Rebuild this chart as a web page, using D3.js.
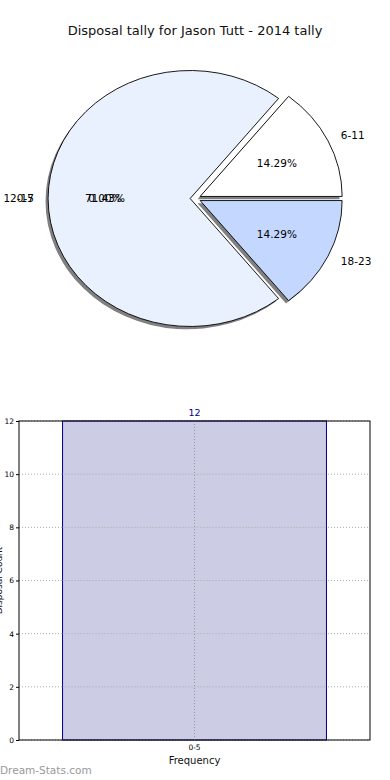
<!DOCTYPE html>
<html>
<head>
<meta charset="utf-8">
<script src="https://cdn.jsdelivr.net/npm/d3@7.9.0/dist/d3.min.js"></script>
<style>
  html, body { margin: 0; padding: 0; background: #fff; }
  svg { display: block; font-family: "DejaVu Sans", sans-serif; }
</style>
</head>
<body>
<svg id="chart" width="390" height="780"></svg>
<script>
const TITLE = "Disposal tally for Jason Tutt - 2014 tally";

// pie data
const pieLabels = ["0-5", "6-11", "12-17", "18-23"];
const pieValues = [0, 1, 5, 1];
const pieColors = ["#d9e6ff", "#ffffff", "#eaf1fe", "#c4d8ff"];

// bar data
const barCats = ["0-5"];
const barValues = [12];
const yTicks = [0, 2, 4, 6, 8, 10, 12];

const svg = d3.select("#chart");

svg.append("text")
  .attr("x", 195).attr("y", 35)
  .attr("text-anchor", "middle")
  .attr("font-size", 13)
  .attr("fill", "#111")
  .text(TITLE);

// ---- pie (matplotlib style: starts east, goes counter-clockwise, non-equal aspect)
const cx = 195.4, cy = 198.5, rx = 142, ry = 128;
const EXPLODE = 0.037;

const slices = d3.pie().sort(null)
  .startAngle(Math.PI / 2)
  .endAngle(Math.PI / 2 - 2 * Math.PI)(pieValues);

const total = d3.sum(pieValues);
const biggest = slices.reduce((a, b) => (b.value > a.value ? b : a));

// empty slices get their labels on the biggest wedge, like the original
const midAngle = d => d.value === 0 ? (biggest.startAngle + biggest.endAngle) / 2 : (d.startAngle + d.endAngle) / 2;
const ux = a => Math.sin(a), uy = a => -Math.cos(a);

const unitArc = d3.arc().innerRadius(0).outerRadius(1);
const pieG = svg.append("g");

function wedgePos(d, dx, dy) {
  const m = midAngle(d);
  const ox = cx + EXPLODE * rx * ux(m) + dx;
  const oy = cy + EXPLODE * ry * uy(m) + dy;
  return `translate(${ox},${oy}) scale(${rx},${ry})`;
}

// shadows
pieG.selectAll("path.shadow")
  .data(slices.filter(d => d.value > 0))
  .join("path")
  .attr("class", "shadow")
  .attr("d", unitArc)
  .attr("fill", "#555")
  .attr("fill-opacity", 0.75)
  .attr("transform", d => wedgePos(d, -2.6, 2.8));

// wedges
pieG.selectAll("path.wedge")
  .data(slices.filter(d => d.value > 0))
  .join("path")
  .attr("class", "wedge")
  .attr("d", unitArc)
  .attr("fill", d => pieColors[d.index])
  .attr("stroke", "#000")
  .attr("stroke-width", 0.9)
  .attr("vector-effect", "non-scaling-stroke")
  .attr("transform", d => wedgePos(d, 0, 0));

// outer labels
pieG.selectAll("text.lab")
  .data(slices)
  .join("text")
  .attr("class", "lab")
  .attr("x", d => cx + (1.1 + EXPLODE) * rx * ux(midAngle(d)))
  .attr("y", d => cy + (1.1 + EXPLODE) * ry * uy(midAngle(d)))
  .attr("dy", "0.35em")
  .attr("text-anchor", d => ux(midAngle(d)) >= 0 ? "start" : "end")
  .attr("font-size", 10.5)
  .attr("fill", "#000")
  .text(d => pieLabels[d.index]);

// percent labels
pieG.selectAll("text.pct")
  .data(slices)
  .join("text")
  .attr("class", "pct")
  .attr("x", d => cx + (0.6 + EXPLODE) * rx * ux(midAngle(d)))
  .attr("y", d => cy + (0.6 + EXPLODE) * ry * uy(midAngle(d)))
  .attr("dy", "0.35em")
  .attr("text-anchor", "middle")
  .attr("font-size", 10.5)
  .attr("fill", "#000")
  .text(d => (d.value / total * 100).toFixed(2) + "%");

// ---- bar chart
const plot = {left: 19, right: 370, top: 421, bottom: 740};

const x = d3.scaleBand()
  .domain(barCats)
  .range([plot.left, plot.right])
  .paddingInner(0)
  .paddingOuter(0.165);

const y = d3.scaleLinear()
  .domain([0, 12])
  .range([plot.bottom, plot.top]);

const barG = svg.append("g");

// grid
barG.selectAll("line.hgrid")
  .data(yTicks)
  .join("line")
  .attr("class", "hgrid")
  .attr("x1", plot.left).attr("x2", plot.right)
  .attr("y1", d => y(d)).attr("y2", d => y(d))
  .attr("stroke", "#aaa").attr("stroke-width", 1)
  .attr("stroke-dasharray", "1,2");

// bars
barG.selectAll("rect.bar")
  .data(barValues)
  .join("rect")
  .attr("class", "bar")
  .attr("x", (d, i) => x(barCats[i]))
  .attr("y", d => y(d))
  .attr("width", x.bandwidth())
  .attr("height", d => y(0) - y(d))
  .attr("fill", "#ccccE5")
  .attr("stroke", "#00008b")
  .attr("stroke-width", 1);

// grid drawn again over the bar
barG.selectAll("line.vgrid")
  .data(barCats)
  .join("line")
  .attr("class", "vgrid")
  .attr("x1", d => x(d) + x.bandwidth() / 2).attr("x2", d => x(d) + x.bandwidth() / 2)
  .attr("y1", plot.top).attr("y2", plot.bottom)
  .attr("stroke", "#999").attr("stroke-width", 1)
  .attr("stroke-dasharray", "1,2");

barG.selectAll("line.hgrid2")
  .data(yTicks)
  .join("line")
  .attr("class", "hgrid2")
  .attr("x1", x(barCats[0])).attr("x2", x(barCats[0]) + x.bandwidth())
  .attr("y1", d => y(d)).attr("y2", d => y(d))
  .attr("stroke", "#aaa").attr("stroke-width", 1)
  .attr("stroke-dasharray", "1,2");

// frame
barG.append("rect")
  .attr("x", plot.left).attr("y", plot.top)
  .attr("width", plot.right - plot.left)
  .attr("height", plot.bottom - plot.top)
  .attr("fill", "none")
  .attr("stroke", "#000")
  .attr("stroke-width", 1);

// axes
const yAxis = barG.append("g")
  .attr("transform", `translate(${plot.left},0)`)
  .call(d3.axisLeft(y).tickValues(yTicks).tickSize(3).tickPadding(2));
yAxis.select(".domain").remove();
yAxis.selectAll("text").attr("font-size", 7.5).attr("font-family", "DejaVu Sans");

const xAxis = barG.append("g")
  .attr("transform", `translate(0,${plot.bottom})`)
  .call(d3.axisBottom(x).tickSize(0).tickPadding(5));
xAxis.select(".domain").remove();
xAxis.selectAll("text").attr("font-size", 7.5).attr("font-family", "DejaVu Sans");

// value labels
barG.selectAll("text.val")
  .data(barValues)
  .join("text")
  .attr("class", "val")
  .attr("x", (d, i) => x(barCats[i]) + x.bandwidth() / 2)
  .attr("y", d => y(d) - 5)
  .attr("text-anchor", "middle")
  .attr("font-size", 9.5)
  .attr("fill", "#00008b")
  .text(d => d);

svg.append("text")
  .attr("x", (plot.left + plot.right) / 2)
  .attr("y", 764)
  .attr("text-anchor", "middle")
  .attr("font-size", 10)
  .attr("fill", "#111")
  .text("Frequency");

svg.append("text")
  .attr("transform", `translate(2,${(plot.top + plot.bottom) / 2}) rotate(-90)`)
  .attr("text-anchor", "middle")
  .attr("font-size", 9)
  .attr("fill", "#111")
  .text("Disposal Count");

svg.append("text")
  .attr("x", 0).attr("y", 774)
  .attr("font-size", 10.5)
  .attr("fill", "#999")
  .text("Dream-Stats.com");
</script>
</body>
</html>
